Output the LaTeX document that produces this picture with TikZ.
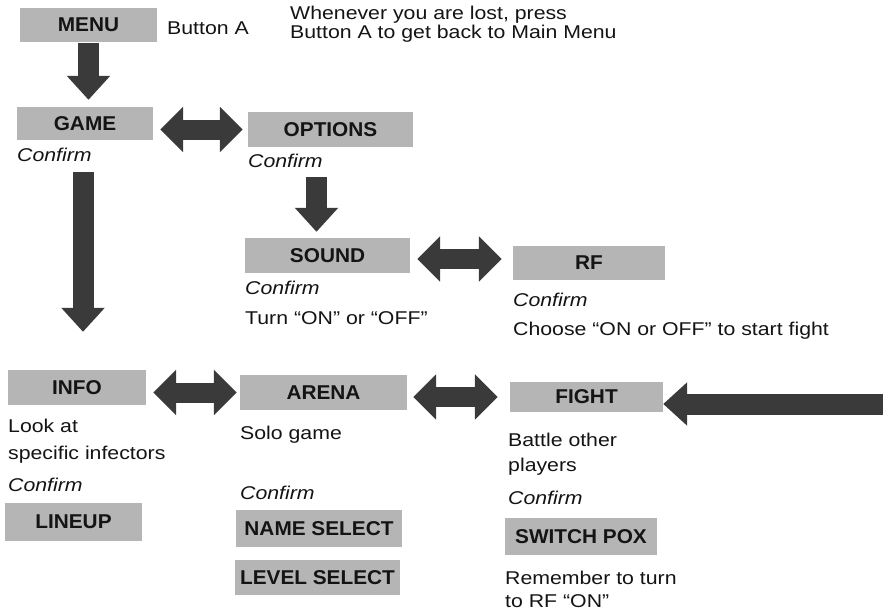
\documentclass[tikz,border=0pt]{standalone}
\usepackage{fontspec}
\setmainfont{Liberation Sans}[FakeStretch=1.15]
\newfontfamily\labelfont{Liberation Sans}[FakeStretch=1.04]
\usetikzlibrary{arrows.meta}
\definecolor{pxbox}{HTML}{B5B5B5}
\definecolor{pxarrow}{HTML}{3A3A3A}
\definecolor{pxink}{HTML}{141414}

\begin{document}
\begin{tikzpicture}[x=1pt,y=-1pt, every node/.style={font=\fontsize{18.5}{24}\selectfont,text=pxink,inner sep=0pt}, menubox/.style={fill=pxbox,font=\labelfont\bfseries\fontsize{20}{24}\selectfont}, note/.style={anchor=west,align=left}, cfm/.style={anchor=west,font=\itshape\fontsize{18.5}{24}\selectfont}, down/.style={pxarrow,line width=21pt,-{Triangle[length=24pt,width=42pt]}}, both/.style={pxarrow,line width=20pt,{Triangle[length=23pt,width=44pt]}-{Triangle[length=23pt,width=44pt]}}]
\fill[white] (0,0) rectangle (883,610);
\useasboundingbox (0,0) rectangle (883,610);
% menu boxes
\node[menubox,minimum width=137pt,minimum height=34pt] (menu) at (88.5,25) {MENU};
\node[menubox,minimum width=136pt,minimum height=33pt] (game) at (85,123.5) {GAME};
\node[menubox,minimum width=165pt,minimum height=35pt] (options) at (330.5,129.5) {OPTIONS};
\node[menubox,minimum width=165pt,minimum height=35pt] (sound) at (327.5,255.5) {SOUND};
\node[menubox,minimum width=152pt,minimum height=34pt] (rf) at (589,263) {RF};
\node[menubox,minimum width=138pt,minimum height=35pt] (info) at (77,387.5) {INFO};
\node[menubox,minimum width=167pt,minimum height=35pt] (arena) at (323.5,392.5) {ARENA};
\node[menubox,minimum width=153pt,minimum height=30pt] (fight) at (586.5,397) {FIGHT};
\node[menubox,minimum width=137pt,minimum height=38pt] (lineup) at (73.5,522) {LINEUP};
\node[menubox,minimum width=166pt,minimum height=37pt] (namesel) at (319,528.5) {NAME SELECT};
\node[menubox,minimum width=165pt,minimum height=35pt] (levelsel) at (317.5,577.5) {LEVEL SELECT};
\node[menubox,minimum width=152pt,minimum height=37pt] (switchpox) at (581,536.5) {SWITCH POX};
% notes
\node[note] (btna) at (167,28.5) {Button A};
\node[note,font=\fontsize{18.5}{19}\selectfont] (lost) at (290,24) {Whenever you are lost, press\\Button A to get back to Main Menu};
\node[cfm] (gamecf) at (17,155) {Confirm};
\node[cfm] (optcf) at (248,161) {Confirm};
\node[cfm] (soundcf) at (245,288) {Confirm};
\node[note] (soundnote) at (245,318) {Turn “ON” or “OFF”};
\node[cfm] (rfcf) at (513,300) {Confirm};
\node[note] (rfnote) at (513,331) {Choose “ON or OFF” to start fight};
\node[note,font=\fontsize{18.5}{27}\selectfont] (infonote) at (8,441.5) {Look at\\specific infectors};
\node[cfm] (infocf) at (8,485) {Confirm};
\node[note] (arenanote) at (240,435) {Solo game};
\node[cfm] (arenacf) at (240,493) {Confirm};
\node[note,font=\fontsize{18.5}{25}\selectfont] (fightnote) at (508,454.5) {Battle other\\players};
\node[cfm] (fightcf) at (508,498) {Confirm};
\node[note,font=\fontsize{18.5}{23}\selectfont] (switchnote) at (505,589) {Remember to turn\\to RF “ON”};
% arrows
\coordinate (offpage) at (883,404);
\draw[down,shorten <=1pt,shorten >=7pt] (menu.south) -- (menu.south |- game.north);
\draw[down,shorten <=32pt,shorten >=38pt] ([xshift=-2pt]game.south) -- ([xshift=-2pt]game.south |- info.north);
\draw[down,shorten <=30pt,shorten >=6pt] ([xshift=-14pt]options.south) -- ([xshift=-14pt]options.south |- sound.north);
\draw[both,shorten <=7pt,shorten >=5pt] (game.east |- options.west) -- (options.west);
\draw[both,shorten <=7pt,shorten >=11pt] ([yshift=-3.5pt]sound.east) -- ([yshift=-3.5pt]sound.east -| rf.west);
\draw[both,shorten <=7pt,shorten >=3pt] (info.east |- arena.west) -- (arena.west);
\draw[both,shorten <=6pt,shorten >=12pt] (arena.east |- fight.west) -- (fight.west);
\draw[down] (offpage) -- (offpage -| fight.east);
\end{tikzpicture}
\end{document}
